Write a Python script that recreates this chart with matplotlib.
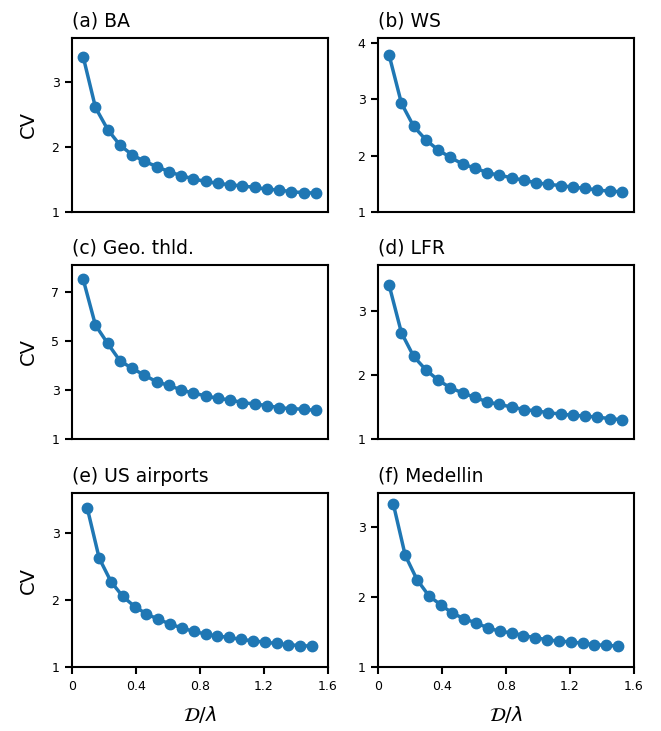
import numpy as np
import matplotlib
matplotlib.use("Agg")
import matplotlib.pyplot as plt

# x values (D/lambda)
x_top = np.linspace(0.07, 1.525, 20)     # panels a-d
x_bottom = np.linspace(0.096, 1.50, 20)  # panels e-f

titles = ["(a) BA", "(b) WS", "(c) Geo. thld.", "(d) LFR", "(e) US airports", "(f) Medellin"]

cv_ba = [3.39, 2.61, 2.27, 2.03, 1.88, 1.78, 1.70, 1.62, 1.56, 1.51,
         1.47, 1.44, 1.42, 1.40, 1.38, 1.35, 1.34, 1.31, 1.30, 1.29]
cv_ws = [3.78, 2.93, 2.52, 2.28, 2.10, 1.97, 1.85, 1.78, 1.70, 1.65,
         1.61, 1.56, 1.52, 1.49, 1.47, 1.44, 1.42, 1.39, 1.37, 1.36]
cv_geo = [7.53, 5.66, 4.91, 4.20, 3.89, 3.61, 3.34, 3.19, 3.01, 2.87,
          2.77, 2.66, 2.60, 2.49, 2.43, 2.37, 2.28, 2.24, 2.22, 2.17]
cv_lfr = [3.40, 2.66, 2.29, 2.08, 1.92, 1.80, 1.72, 1.65, 1.58, 1.54,
          1.50, 1.46, 1.44, 1.41, 1.39, 1.37, 1.36, 1.34, 1.32, 1.30]
cv_us = [3.36, 2.62, 2.27, 2.05, 1.90, 1.79, 1.71, 1.64, 1.58, 1.53,
         1.49, 1.46, 1.44, 1.41, 1.39, 1.37, 1.35, 1.33, 1.32, 1.31]
cv_med = [3.33, 2.60, 2.25, 2.02, 1.89, 1.77, 1.69, 1.63, 1.56, 1.51,
          1.49, 1.45, 1.42, 1.39, 1.37, 1.36, 1.34, 1.32, 1.31, 1.30]

series = [cv_ba, cv_ws, cv_geo, cv_lfr, cv_us, cv_med]
xs = [x_top, x_top, x_top, x_top, x_bottom, x_bottom]
yticks = [[1, 2, 3], [1, 2, 3, 4], [1, 3, 5, 7], [1, 2, 3], [1, 2, 3], [1, 2, 3]]
ylims = [(1, 3.68), (1, 4.09), (1, 8.12), (1, 3.72), (1, 3.59), (1, 3.49)]
xticks = [0, 0.4, 0.8, 1.2, 1.6]
xtick_labels = ["0", "0.4", "0.8", "1.2", "1.6"]

W, H = 661, 731
fig = plt.figure(figsize=(W / 100, H / 100), dpi=100)

col_left = [72 / W, 378 / W]
ax_w = 256 / W
row_bottom = [1 - 212 / H, 1 - 439 / H, 1 - 667 / H]
ax_h = 174 / H

color = "#1f77b4"
for i in range(6):
    r, c = divmod(i, 2)
    ax = fig.add_axes([col_left[c], row_bottom[r], ax_w, ax_h])
    ax.plot(xs[i], series[i], "-o", color=color, lw=2.5, ms=7.5)
    ax.set_xlim(0, 1.6)
    ax.set_ylim(*ylims[i])
    ax.set_yticks(yticks[i])
    ax.set_yticklabels([str(t) for t in yticks[i]])
    ax.set_xticks(xticks)
    for s in ax.spines.values():
        s.set_linewidth(1.5)
    ax.tick_params(axis="both", labelsize=9, width=1.5, length=5, color="black", pad=4)
    if r < 2:
        ax.tick_params(axis="x", bottom=False, labelbottom=False)
    else:
        ax.set_xticklabels(xtick_labels)
        ax.set_xlabel(r"$\mathcal{D}/\lambda$", fontsize=14, labelpad=8)
    if c == 0:
        ax.set_ylabel("CV", fontsize=14, labelpad=10)
    ax.set_title(titles[i], loc="left", fontsize=13.5, pad=8)

fig.savefig("out.png", dpi=100)
